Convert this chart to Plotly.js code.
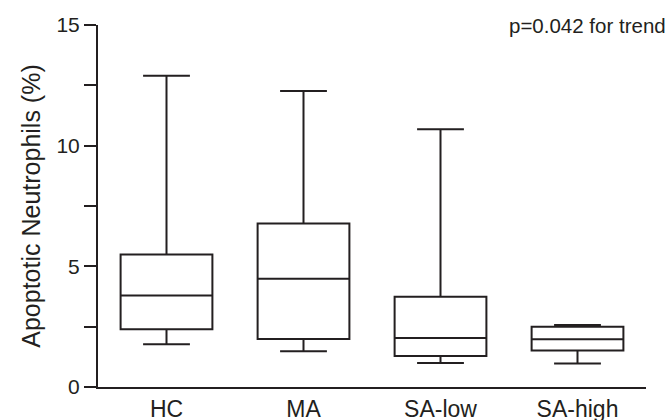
<!DOCTYPE html>
<html>
<head>
<meta charset="utf-8">
<script src="https://cdn.plot.ly/plotly-3.0.1.min.js"></script>
<style>html,body{margin:0;padding:0;background:#fff}#chart{width:670px;height:420px}</style>
</head>
<body>
<div id="chart"></div>
<script>
// Data
var groups = ["HC", "MA", "SA-low", "SA-high"];
var lowerWhisker = [1.77, 1.48, 0.99, 0.97];
var q1Values = [2.39, 1.99, 1.28, 1.51];
var medianValues = [3.79, 4.49, 2.03, 1.98];
var q3Values = [5.49, 6.78, 3.74, 2.50];
var upperWhisker = [12.90, 12.27, 10.68, 2.57];
var yTickVals = [0, 2.5, 5, 7.5, 10, 12.5, 15];
var yTickText = ["0", "", "5", "", "10", "", "15"];
var annotationText = "p=0.042 for trend";
var yTitle = "Apoptotic Neutrophils (%)";

var ink = "#231f20";
var fontFam = "Liberation Sans, Arial, sans-serif";

var trace = {
  type: "box",
  x: groups,
  q1: q1Values,
  median: medianValues,
  q3: q3Values,
  lowerfence: lowerWhisker,
  upperfence: upperWhisker,
  width: 0.67,
  whiskerwidth: 0.51,
  fillcolor: "rgba(255,255,255,0)",
  line: {color: ink, width: 2},
  boxpoints: false,
  hoverinfo: "skip",
  showlegend: false
};

var layout = {
  width: 670, height: 420,
  margin: {l: 98, r: 24, t: 25, b: 32.5},
  paper_bgcolor: "#fff", plot_bgcolor: "#fff",
  font: {family: fontFam, color: ink, size: 21},
  xaxis: {
    type: "category",
    categoryorder: "array", categoryarray: groups,
    range: [-0.5, 3.5],
    showline: true, linecolor: ink, linewidth: 2,
    ticks: "", showgrid: false, zeroline: false,
    ticklabelstandoff: 0,
    tickfont: {family: fontFam, size: 23, color: ink}
  },
  yaxis: {
    range: [0, 15],
    tickvals: yTickVals, ticktext: yTickText,
    ticks: "outside", ticklen: 12, tickwidth: 2, tickcolor: ink,
    showline: true, linecolor: ink, linewidth: 2,
    showgrid: false, zeroline: false,
    tickfont: {family: fontFam, size: 21, color: ink},
    title: {text: yTitle, font: {family: fontFam, size: 25, color: ink}, standoff: 9}
  },
  annotations: [{
    text: annotationText, xref: "paper", yref: "paper",
    x: 1.041, y: 1.0, xanchor: "right", yanchor: "middle",
    showarrow: false, font: {family: fontFam, size: 20.5, color: ink}
  }]
};

Plotly.newPlot("chart", [trace], layout, {staticPlot: true, displayModeBar: false});
</script>
</body>
</html>
